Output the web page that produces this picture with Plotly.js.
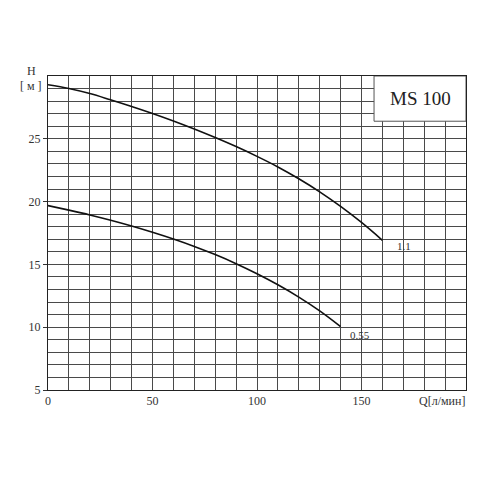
<!DOCTYPE html>
<html>
<head>
<meta charset="utf-8">
<script src="https://cdn.plot.ly/plotly-3.0.1.min.js"></script>
<style>html,body{margin:0;padding:0;background:#fff;}#chart{width:500px;height:500px;}</style>
</head>
<body>
<div id="chart"></div>
<script>
// Flow Q [л/мин]
const q11 = [0, 10, 20, 30, 40, 50, 60, 70, 80, 90, 100, 110, 120, 130, 140, 150, 160];
// Head H [м] for 1.1 kW
const h11 = [29.3, 29.0, 28.6, 28.1, 27.58, 27.02, 26.42, 25.78, 25.1, 24.38, 23.6, 22.76, 21.82, 20.78, 19.62, 18.34, 16.92];
const q055 = [0, 10, 20, 30, 40, 50, 60, 70, 80, 90, 100, 110, 120, 130, 140];
// Head H [м] for 0.55 kW
const h055 = [19.68, 19.32, 18.94, 18.52, 18.06, 17.56, 17.02, 16.43, 15.78, 15.06, 14.26, 13.38, 12.4, 11.3, 10.05];
const seriesNames = ["1.1", "0.55"];
const xTicks = [0, 50, 100, 150];
const yTicks = [5, 10, 15, 20, 25];
const modelName = "MS 100";

const serif = "Liberation Serif, Times New Roman, serif";
const lineStyle = {color: "#111", width: 1.6, shape: "spline", smoothing: 1};

const traces = [
  {x: q11, y: h11, mode: "lines", line: lineStyle, name: seriesNames[0], hoverinfo: "skip"},
  {x: q055, y: h055, mode: "lines", line: lineStyle, name: seriesNames[1], hoverinfo: "skip"}
];

const gridColor = "#4a4a4a";
const layout = {
  width: 500, height: 500,
  margin: {l: 48, r: 34, t: 76, b: 110},
  showlegend: false,
  paper_bgcolor: "#fff", plot_bgcolor: "#fff",
  font: {family: serif, size: 12, color: "#333"},
  xaxis: {
    range: [0, 200], tickvals: xTicks, ticks: "", showgrid: true,
    gridcolor: gridColor, gridwidth: 1,
    minor: {dtick: 10, showgrid: true, gridcolor: gridColor, gridwidth: 1, ticks: ""},
    showline: true, linecolor: "#222", linewidth: 1, mirror: true,
    zeroline: false, fixedrange: true,
    tickfont: {family: serif, size: 12, color: "#333"}
  },
  yaxis: {
    range: [5, 30], tickvals: yTicks, ticks: "outside", ticklen: 4, tickcolor: "#333",
    showgrid: true, gridcolor: gridColor, gridwidth: 1,
    minor: {dtick: 1, showgrid: true, gridcolor: gridColor, gridwidth: 1, ticks: ""},
    showline: true, linecolor: "#222", linewidth: 1, mirror: true,
    zeroline: false, fixedrange: true,
    tickfont: {family: serif, size: 12, color: "#333"}
  },
  shapes: [
    {type: "rect", xref: "x", yref: "y", x0: 156, x1: 200, y0: 26.4, y1: 30,
     fillcolor: "#fff", line: {color: "#555", width: 1}, layer: "above"}
  ],
  annotations: [
    {text: modelName, xref: "x", yref: "y", x: 178, y: 28.2, showarrow: false,
     font: {family: serif, size: 19, color: "#222"}},
    {text: seriesNames[0], xref: "x", yref: "y", x: 170.3, y: 16.5, showarrow: false,
     font: {family: serif, size: 11, color: "#333"}},
    {text: seriesNames[1], xref: "x", yref: "y", x: 149.3, y: 9.4, showarrow: false,
     font: {family: serif, size: 11, color: "#333"}},
    {text: "H", xref: "paper", yref: "paper", x: 0, y: 1, xshift: -17, yshift: 5,
     xanchor: "center", yanchor: "middle", showarrow: false,
     font: {family: serif, size: 12, color: "#333"}},
    {text: "[ м ]", xref: "paper", yref: "paper", x: 0, y: 1, xshift: -17, yshift: -10,
     xanchor: "center", yanchor: "middle", showarrow: false,
     font: {family: serif, size: 12, color: "#333"}},
    {text: "Q[л/мин]", xref: "paper", yref: "paper", x: 1, y: 0, xshift: 1, yshift: -11,
     xanchor: "right", yanchor: "middle", showarrow: false,
     font: {family: serif, size: 12, color: "#333"}}
  ]
};

Plotly.newPlot("chart", traces, layout, {displayModeBar: false, staticPlot: true});
</script>
</body>
</html>
